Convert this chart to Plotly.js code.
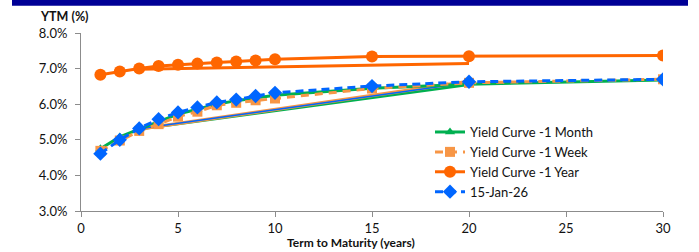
<!DOCTYPE html>
<html>
<head>
<meta charset="utf-8">
<script src="https://cdn.plot.ly/plotly-3.0.1.min.js"></script>
<style>
html,body{margin:0;padding:0;background:#fff;}
#chart{width:699px;height:252px;}
</style>
</head>
<body>
<div id="chart"></div>
<script>
// Term to maturity (years)
const terms = [1, 2, 3, 4, 5, 6, 7, 8, 9, 10, 15, 20, 30];
// Yields (%)
const yc1Month  = [4.75, 5.08, 5.30, 5.52, 5.72, 5.86, 6.00, 6.10, 6.18, 6.25, 6.45, 6.56, 6.68];
const yc1Week   = [4.69, 4.98, 5.25, 5.44, 5.65, 5.79, 5.97, 6.04, 6.11, 6.16, 6.44, 6.60, 6.70];
const yc1Year   = [6.83, 6.92, 7.00, 7.07, 7.11, 7.14, 7.17, 7.20, 7.23, 7.26, 7.34, 7.35, 7.37];
const yc15Jan26 = [4.61, 5.00, 5.32, 5.58, 5.77, 5.91, 6.05, 6.13, 6.23, 6.32, 6.51, 6.63, 6.70];
// extra straight segments drawn by the original chart (3y -> 20y)
const segTerms    = [3, 20];
const seg1Month   = [5.30, 6.55];
const seg1Week    = [5.30, 6.64];
const seg1Year    = [6.98, 7.14];
const seg15Jan26  = [5.31, 6.61];

const seriesNames = ['Yield Curve -1 Month', 'Yield Curve -1 Week', 'Yield Curve -1 Year', '15-Jan-26'];
const xTicks = [0, 5, 10, 15, 20, 25, 30];
const yTicks = [3, 4, 5, 6, 7, 8];
const yTickText = yTicks.map(v => v.toFixed(1) + '%');

const GREEN = '#00B050', LORANGE = '#F79646', ORANGE = '#FF6600', BLUE = '#0066FF';

const traces = [
  {x: segTerms, y: seg1Month, mode: 'lines', line: {color: GREEN, width: 3}, showlegend: false, hoverinfo: 'skip'},
  {x: segTerms, y: seg1Week, mode: 'lines', line: {color: LORANGE, width: 3.5}, showlegend: false, hoverinfo: 'skip'},
  {x: segTerms, y: seg15Jan26, mode: 'lines', line: {color: BLUE, width: 1.5}, showlegend: false, hoverinfo: 'skip'},
  {x: segTerms, y: seg1Year, mode: 'lines', line: {color: ORANGE, width: 3}, showlegend: false, hoverinfo: 'skip'},
  {x: terms, y: yc1Month, name: seriesNames[0], mode: 'lines+markers',
   line: {color: GREEN, width: 3}, marker: {symbol: 'triangle-up', size: 9, color: GREEN}},
  {x: terms, y: yc1Week, name: seriesNames[1], mode: 'lines+markers',
   line: {color: LORANGE, width: 3, dash: '8px,6px'}, marker: {symbol: 'square', size: 10, color: LORANGE}},
  {x: terms, y: yc1Year, name: seriesNames[2], mode: 'lines+markers',
   line: {color: ORANGE, width: 3}, marker: {symbol: 'circle', size: 12, color: ORANGE}},
  {x: terms, y: yc15Jan26, name: seriesNames[3], mode: 'lines+markers',
   line: {color: BLUE, width: 3, dash: '8px,5px'}, marker: {symbol: 'diamond', size: 11, color: BLUE}}
];

const FONT = 'Lato, "Open Sans", sans-serif';
const plotL = 81, plotR = 663, plotT = 32.5, plotB = 211.5;
const pw = plotR - plotL, ph = plotB - plotT;
const px = v => (v - plotL) / pw;
const py = v => (plotB - v) / ph;

const layout = {
  width: 699, height: 252,
  margin: {l: plotL, r: 699 - plotR, t: plotT, b: 252 - plotB, pad: 0},
  paper_bgcolor: '#ffffff', plot_bgcolor: '#ffffff',
  font: {family: FONT, size: 13, color: '#222'},
  showlegend: true,
  legend: {x: px(430), y: py(117), xanchor: 'left', yanchor: 'top',
           bgcolor: 'rgba(0,0,0,0)', font: {family: FONT, size: 13, color: '#111'},
           tracegroupgap: 0},
  xaxis: {range: [0, 30], tickvals: xTicks, ticks: 'outside', ticklen: 5, tickcolor: '#8c8c8c',
          showline: true, linecolor: '#8c8c8c', linewidth: 1, showgrid: false, zeroline: false,
          tickfont: {family: FONT, size: 13, color: '#111'}, fixedrange: true},
  yaxis: {range: [3, 8], tickvals: yTicks, ticktext: yTickText,
          ticks: 'outside', ticklen: 5, tickcolor: '#8c8c8c', ticklabelstandoff: 5,
          showline: true, linecolor: '#8c8c8c', linewidth: 1, showgrid: false, zeroline: false,
          tickfont: {family: FONT, size: 13, color: '#111'}, fixedrange: true},
  shapes: [
    {type: 'rect', xref: 'paper', yref: 'paper', x0: px(12), x1: px(688), y0: py(5), y1: py(-2),
     fillcolor: '#000096', line: {width: 0}, layer: 'above'}
  ],
  annotations: [
    {text: '<b>YTM (%)</b>', xref: 'paper', yref: 'paper', x: px(64), y: py(15.5),
     xanchor: 'center', yanchor: 'middle', showarrow: false,
     font: {family: FONT, size: 12.5, color: '#111'}},
    {text: '<b>Term to Maturity (years)</b>', xref: 'paper', yref: 'paper', x: px(351), y: py(243),
     xanchor: 'center', yanchor: 'middle', showarrow: false, bgcolor: '#ffffff',
     font: {family: FONT, size: 12, color: '#111'}}
  ]
};

Plotly.newPlot('chart', traces, layout, {displayModeBar: false, staticPlot: true});
</script>
</body>
</html>
